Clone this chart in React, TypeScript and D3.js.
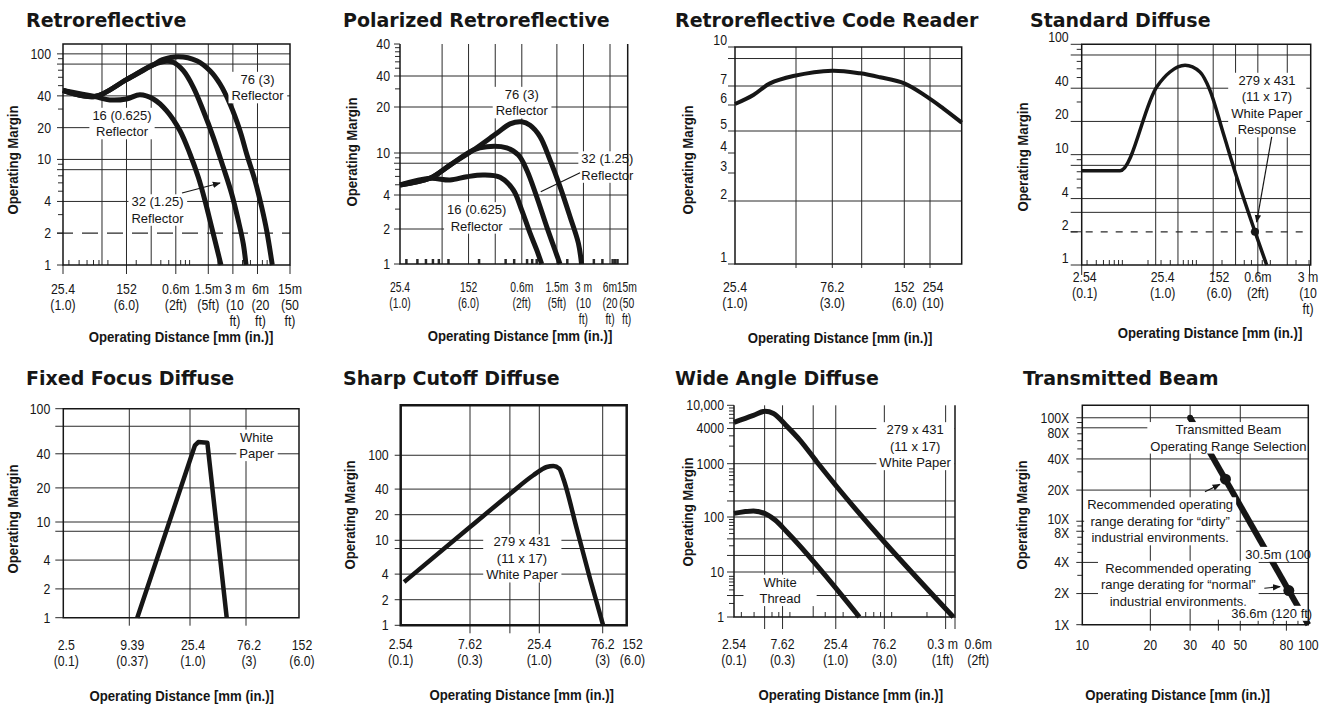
import React, { useRef, useEffect } from "react";
import * as d3 from "d3";

type Pt = [number, number];
interface Tick { v: number; t: string[]; dx?: number; dy?: number }
interface Note { at: Pt; lines: string[]; padX?: number }
interface Arrow { from: Pt; to: Pt; head: boolean }

const FONT = "'Liberation Sans', Arial, Helvetica, sans-serif";
const TITLE_FONT = "'DejaVu Sans', Verdana, sans-serif";
const INK = "#161616";
const GRID = "#2a2a2a";
const NARROW = 0.88; // the catalogue uses a condensed face

const lbl = (vals: number[]): Tick[] => vals.map((v) => ({ v, t: [String(v)] }));

// ---------- Retroreflective ----------
const retroXLabels: Tick[] = [
  { v: 25.4, t: ["25.4", "(1.0)"] },
  { v: 152, t: ["152", "(6.0)"] },
  { v: 610, t: ["0.6m", "(2ft)"] },
  { v: 1524, t: ["1.5m", "(5ft)"] },
  { v: 3048, t: ["3 m", "(10", "ft)"], dx: 2 },
  { v: 6096, t: ["6m", "(20", "ft)"], dx: 3 },
  { v: 15240, t: ["15m", "(50", "ft)"] },
];
const retroYLabels = lbl([100, 40, 20, 10, 4, 2, 1]);
const retro16: Pt[] = [[25.4, 45], [62, 39.4], [95, 36.6], [152, 37.4], [222, 41], [324, 37.4], [472, 28.9], [687, 18.7], [910, 11.25], [1151, 6.77], [1390, 4.06], [1600, 2.63], [1840, 1.7], [2180, 1]];
const retro32: Pt[] = [[25.4, 45], [62, 39.4], [152, 57], [322, 78.7], [472, 85], [569, 83.2], [754, 69.2], [1000, 48.2], [1324, 28.9], [1757, 16.2], [2327, 8.42], [2950, 4.71], [3555, 2.63], [4091, 1.58], [4414, 1]];
const retro76: Pt[] = [[25.4, 45], [62, 39.4], [152, 57], [322, 78.7], [420, 88], [655, 94], [1099, 86.2], [1600, 69.2], [2122, 51.8], [2811, 33.5], [3724, 18.7], [4496, 11.25], [5687, 6.29], [6868, 3.52], [7907, 2.11], [9250, 1]];

// ---------- Polarized Retroreflective ----------
const polXLabels: Tick[] = [
  { v: 25.4, t: ["25.4", "(1.0)"] },
  { v: 152, t: ["152", "(6.0)"] },
  { v: 610, t: ["0.6m", "(2ft)"] },
  { v: 1524, t: ["1.5m", "(5ft)"] },
  { v: 3048, t: ["3 m", "(10", "ft)"] },
  { v: 6096, t: ["6m", "(20", "ft)"] },
  { v: 15240, t: ["15m", "(50", "ft)"], dx: -1 },
];
const polYLabels: Tick[] = [{ v: 100, t: ["40"] }, ...lbl([40, 20, 10, 4, 2, 1])];
const pol16: Pt[] = [[25.4, 4.98], [55.5, 5.76], [93.7, 5.55], [145.4, 5.96], [224.2, 6.19], [346, 5.89], [489, 4.46], [609, 2.94], [757, 1.84], [900, 1.32], [1026, 1]];
const pol32: Pt[] = [[25.4, 4.98], [55.5, 5.76], [93.7, 7.69], [172.5, 10.46], [244.6, 11], [412, 10.8], [558, 9.57], [694, 6.9], [900, 3.86], [1168, 2.1], [1450, 1.32], [1654, 1]];
const pol76: Pt[] = [[25.4, 4.98], [55.5, 5.76], [93.7, 7.69], [172.5, 10.46], [317, 13.45], [449, 15.5], [609, 16], [757, 15.2], [981, 12.8], [1273, 8.6], [1654, 4.8], [2148, 2.57], [2672, 1.51], [2900, 1]];

// ---------- Retroreflective Code Reader ----------
const codeXLabels: Tick[] = [
  { v: 25.4, t: ["25.4", "(1.0)"] },
  { v: 76.2, t: ["76.2", "(3.0)"] },
  { v: 152, t: ["152", "(6.0)"] },
  { v: 254, t: ["254", "(10)"], dx: 3 },
];
const codeYLabels = lbl([10, 7, 6, 5, 4, 3, 2, 1]);
const codeCurve: Pt[] = [[25.4, 6.05], [31.3, 6.51], [37.8, 7.17], [49.3, 7.67], [76.2, 8.05], [100, 7.86], [121, 7.58], [152, 7.17], [238, 6.42], [274, 5.86], [305, 5.3]];

// ---------- Standard Diffuse ----------
const stdXLabels: Tick[] = [
  { v: 2.54, t: ["2.54", "(0.1)"], dx: 3 },
  { v: 25.4, t: ["25.4", "(1.0)"], dx: 7 },
  { v: 152, t: ["152", "(6.0)"], dx: 6 },
  { v: 610, t: ["0.6m", "(2ft)"] },
  { v: 3048, t: ["3 m", "(10", "ft)"], dx: -1.5 },
];
const stdCurve: Pt[] = [[2.54, 7.14], [8.37, 7.14], [26.2, 41.1], [39.6, 56.1], [63.4, 64.5], [100.7, 56.1], [137.6, 38.3], [208, 15.6], [315, 6.3], [558, 2], [803, 1]];

// ---------- Fixed Focus Diffuse ----------
const fixedXLabels: Tick[] = [
  { v: 2.5, t: ["2.5", "(0.1)"] },
  { v: 9.39, t: ["9.39", "(0.37)"] },
  { v: 25.4, t: ["25.4", "(1.0)"] },
  { v: 76.2, t: ["76.2", "(3)"] },
  { v: 152, t: ["152", "(6.0)"] },
];
const fixedCurve: Pt[] = [[10.7, 1], [28, 47.5], [29.9, 50.8], [35.7, 50.1], [52.2, 1]];

// ---------- Sharp Cutoff Diffuse ----------
const sharpXLabels: Tick[] = [
  { v: 2.54, t: ["2.54", "(0.1)"] },
  { v: 7.62, t: ["7.62", "(0.3)"] },
  { v: 25.4, t: ["25.4", "(1.0)"] },
  { v: 76.2, t: ["76.2", "(3)"] },
  { v: 152, t: ["152", "(6.0)"] },
];
const sharpCurve: Pt[] = [[2.68, 3.23], [7.62, 14.3], [15.3, 35.3], [22.9, 58.2], [28.9, 72.8], [32.4, 74.8], [35.9, 69.6], [38.5, 53.1], [48.6, 13.7], [61.2, 3.53], [77, 1]];

// ---------- Wide Angle Diffuse ----------
const wideXLabels: Tick[] = [
  { v: 2.54, t: ["2.54", "(0.1)"] },
  { v: 7.62, t: ["7.62", "(0.3)"] },
  { v: 25.4, t: ["25.4", "(1.0)"] },
  { v: 76.2, t: ["76.2", "(3.0)"] },
  { v: 305, t: ["0.3 m", "(1ft)"], dx: -3 },
  { v: 610, t: ["0.6m", "(2ft)"], dx: 2 },
];
const wideYLabels: Tick[] = [
  { v: 10000, t: ["10,000"] },
  { v: 4000, t: ["4000"] },
  { v: 1000, t: ["1000"] },
  { v: 100, t: ["100"] },
  { v: 10, t: ["10"] },
  { v: 1, t: ["1"] },
];
const wideWhite: Pt[] = [[2.54, 5100], [3.94, 6745], [5.13, 7900], [6.2, 7260], [8.37, 4400], [11.33, 2512], [16.5, 1082], [363, 1]];
const wideThread: Pt[] = [[2.54, 117], [3.94, 130], [6.44, 88], [8.37, 54], [43.3, 1]];

// ---------- Transmitted Beam ----------
const beamXLabels = lbl([10, 20, 30, 40, 50, 80, 100]);
const beamYLabels: Tick[] = [
  { v: 100, t: ["100X"] },
  { v: 80, t: ["80X"], dy: 5 },
  { v: 40, t: ["40X"] },
  { v: 20, t: ["20X"] },
  { v: 10, t: ["10X"], dy: -2.5 },
  { v: 8, t: ["8X"], dy: 1.5 },
  { v: 4, t: ["4X"] },
  { v: 2, t: ["2X"] },
  { v: 1, t: ["1X"] },
];
const beamLine: Pt[] = [[30, 100], [100, 1]];
const beamDots: Pt[] = [[43, 25.5], [82, 2.14]];

const std7 = lbl([100, 40, 20, 10, 4, 2, 1]);

type CurveKind = "cat" | "mono" | "linear";

interface Panel {
  title: string; titleX: number; titleY: number;
  xDom: number[]; xRng: number[]; yDom: number[]; yRng: number[];
  xGrid: number[]; yGrid: number[]; yDash?: number[]; dash?: string;
  xLabels: Tick[]; xLabelY: number; xLabelDx?: number; xLabelScale?: number; xTickDown: number[]; xTickLen: number;
  yLabels: Tick[]; yLabelGap: number; above?: boolean; yTickLen: number;
  yTitle: Pt; xTitle: Pt;
  topLine: boolean; frameW?: number;
  minorX?: number; minorY?: boolean;
  curves: Pt[][]; lineW: number; kind: CurveKind;
  notes: Note[]; arrows: Arrow[]; dots: { p: Pt; r: number }[];
}

const panels: Panel[] = [
  {
    title: "Retroreflective", titleX: 26, titleY: 27,
    xDom: [25.4, 15240], xRng: [63, 290], yDom: [1, 124], yRng: [265, 44],
    xGrid: [76.2, 152, 305, 610, 1524, 3048, 6096], yGrid: [100, 80, 40, 20, 10, 8, 4], yDash: [2], dash: "16,9",
    xLabels: retroXLabels, xLabelY: 294, xTickDown: [25.4, 152, 610, 1524, 3048, 6096, 15240], xTickLen: 9,
    yLabels: retroYLabels, yLabelGap: 12, yTickLen: 6,
    yTitle: [13, 160], xTitle: [181, 342], topLine: true, minorX: 1, minorY: true,
    curves: [retro16, retro32, retro76], lineW: 5, kind: "cat",
    notes: [
      { at: [6100, 48], lines: ["76 (3)", "Reflector"] },
      { at: [134, 21.9], lines: ["16 (0.625)", "Reflector"] },
      { at: [364, 3.32], lines: ["32 (1.25)", "Reflector"] },
    ],
    arrows: [{ from: [727, 4.81], to: [2121, 5.98], head: true }], dots: [],
  },
  {
    title: "Polarized Retroreflective", titleX: 343, titleY: 27,
    xDom: [25.4, 6096, 15240], xRng: [400, 610, 627.7], yDom: [1, 2, 4, 10, 20, 40, 100], yRng: [264, 229, 195, 153, 107, 76, 44],
    xGrid: [76.2, 152, 305, 610, 1524, 3048, 6096], yGrid: [40, 20, 10, 8, 4, 2],
    xLabels: polXLabels, xLabelY: 292, xLabelScale: 0.74, xTickDown: [], xTickLen: 0,
    yLabels: polYLabels, yLabelGap: 10, yTickLen: 6,
    yTitle: [352, 152], xTitle: [520, 340.5], topLine: false, minorX: 2.5, minorY: true,
    curves: [pol16, pol32, pol76], lineW: 5, kind: "cat",
    notes: [
      { at: [609, 22.1], lines: ["76 (3)", "Reflector"] },
      { at: [5690, 7.37], lines: ["32 (1.25)", "Reflector"] },
      { at: [188, 2.51], lines: ["16 (0.625)", "Reflector"] },
    ],
    arrows: [{ from: [2791, 6.51], to: [1000, 4.3], head: false }], dots: [],
  },
  {
    title: "Retroreflective Code Reader", titleX: 675, titleY: 27,
    xDom: [25.4, 50.8, 76.2, 101.6, 152, 254, 305], xRng: [735, 796, 832.3, 861.7, 904.3, 930, 961.7],
    yDom: [1, 2, 3, 4, 5, 6, 7, 10], yRng: [264, 201, 173, 153, 131, 105, 86, 47],
    xGrid: [50.8, 76.2, 101.6, 152, 254], yGrid: [9, 7, 5, 2],
    xLabels: codeXLabels, xLabelY: 292, xTickDown: [50.8, 76.2, 101.6, 152, 254], xTickLen: 4,
    yLabels: codeYLabels, yLabelGap: 8, above: true, yTickLen: 7,
    yTitle: [688, 160], xTitle: [840, 342.5], topLine: true,
    curves: [codeCurve], lineW: 4, kind: "cat",
    notes: [], arrows: [], dots: [],
  },
  {
    title: "Standard Diffuse", titleX: 1030, titleY: 27,
    xDom: [2.54, 3160], xRng: [1081.7, 1310.7], yDom: [1, 100], yRng: [265, 44.3],
    xGrid: [25.4, 50.8, 152, 305, 610, 1524], yGrid: [80, 40, 20, 10, 8, 4, 3], yDash: [2], dash: "7,8",
    xLabels: stdXLabels, xLabelY: 282, xTickDown: [2.54, 152, 610, 3048], xTickLen: 10,
    yLabels: std7, yLabelGap: 13, above: true, yTickLen: 11,
    yTitle: [1023, 157], xTitle: [1210, 337.5], topLine: true, minorX: 1, minorY: true,
    curves: [stdCurve], lineW: 3.5, kind: "mono",
    notes: [{ at: [810, 28.2], lines: ["279 x 431", "(11 x 17)", "White Paper", "Response"] }],
    arrows: [{ from: [939, 14.5], to: [588, 2.45], head: true }], dots: [{ p: [558, 2], r: 4 }],
  },
  {
    title: "Fixed Focus Diffuse", titleX: 26, titleY: 385,
    xDom: [2.5, 9.39, 25.4, 76.2, 152], xRng: [63.3, 129.3, 190, 246, 299], yDom: [1, 10, 100], yRng: [617.7, 522, 408.7],
    xGrid: [9.39, 25.4, 76.2], yGrid: [70, 40, 20, 10, 8, 4, 2],
    xLabels: fixedXLabels, xLabelY: 650, xLabelDx: 3, xTickDown: [9.39, 25.4, 76.2], xTickLen: 8,
    yLabels: std7, yLabelGap: 13, yTickLen: 8,
    yTitle: [13, 519], xTitle: [181.7, 701], topLine: true,
    curves: [fixedCurve], lineW: 4.5, kind: "linear",
    notes: [{ at: [87.6, 47.5], lines: ["White", "Paper"] }], arrows: [], dots: [],
  },
  {
    title: "Sharp Cutoff Diffuse", titleX: 343, titleY: 385,
    xDom: [2.54, 7.62, 25.4, 76.2, 133], xRng: [400.7, 470, 539.3, 602.7, 626.7], yDom: [1, 387], yRng: [625.3, 405.3],
    xGrid: [7.62, 15.24, 25.4, 76.2], yGrid: [100, 40, 20, 10, 8, 4, 2],
    xLabels: sharpXLabels, xLabelY: 649, xTickDown: [7.62, 15.24, 25.4, 76.2], xTickLen: 8,
    yLabels: std7, yLabelGap: 12, yTickLen: 6,
    yTitle: [350, 515], xTitle: [521.7, 699.5], topLine: true, frameW: 2.5,
    curves: [sharpCurve], lineW: 4.5, kind: "mono",
    notes: [{ at: [18.8, 6.12], lines: ["279 x 431", "(11 x 17)", "White Paper"] }], arrows: [], dots: [],
  },
  {
    title: "Wide Angle Diffuse", titleX: 675, titleY: 385,
    xDom: [2.54, 377], xRng: [734, 955], yDom: [1, 10, 100, 1000, 10000], yRng: [617, 572, 517, 463.7, 405.3],
    xGrid: [5.08, 7.62, 15.24, 25.4, 76.2, 305], yGrid: [4000, 1000, 200, 100, 40, 20, 10, 3],
    xLabels: wideXLabels, xLabelY: 649, xTickDown: [5.08, 7.62, 25.4, 76.2, 305, 377], xTickLen: 12,
    yLabels: wideYLabels, yLabelGap: 10, yTickLen: 7,
    yTitle: [688, 512], xTitle: [850.8, 699.5], topLine: false, minorX: 1, minorY: true,
    curves: [wideWhite, wideThread], lineW: 5, kind: "mono",
    notes: [
      { at: [153, 2000], lines: ["279 x 431", "(11 x 17)", "White Paper"] },
      { at: [7.2, 3.92], lines: ["White", "Thread"], padX: 16 },
    ],
    arrows: [], dots: [],
  },
  {
    title: "Transmitted Beam", titleX: 1023, titleY: 385,
    xDom: [10, 100], xRng: [1082.3, 1308.3], yDom: [1, 132], yRng: [624.7, 405.3],
    xGrid: [20, 30, 50], yGrid: [100, 80, 40, 20, 10, 8, 4, 2],
    xLabels: beamXLabels, xLabelY: 650, xTickDown: [20, 30, 40, 50, 80], xTickLen: 6,
    yLabels: beamYLabels, yLabelGap: 13, yTickLen: 6,
    yTitle: [1022, 515], xTitle: [1177.5, 699.5], topLine: true, minorX: 1, minorY: true,
    curves: [beamLine], lineW: 6, kind: "linear",
    notes: [
      { at: [44.3, 64.1], lines: ["Transmitted Beam", "Operating Range Selection"] },
      { at: [22.1, 10], lines: ["Recommended operating", "range derating for \u201cdirty\u201d", "industrial environments."] },
      { at: [73.6, 4.79], lines: ["30.5m (100"] },
      { at: [26.6, 2.43], lines: ["Recommended operating", "range derating for \u201cnormal\u201d", "industrial environments."] },
      { at: [68.9, 1.29], lines: ["36.6m (120 ft)"] },
    ],
    arrows: [
      { from: [34.9, 19.3], to: [40.6, 22.7], head: true },
      { from: [63.9, 2.25], to: [75, 2.33], head: true },
    ],
    dots: [{ p: beamLine[0], r: 3 }, ...beamDots.map((p) => ({ p, r: 5.5 }))],
  },
];

const minorValues = (lo: number, hi: number) => {
  const out: number[] = [];
  for (let k = Math.floor(Math.log10(lo)); k <= Math.ceil(Math.log10(hi)); k++) {
    for (let m = 2; m <= 9; m++) {
      const v = m * 10 ** k;
      if (v > lo * 1.03 && v < hi * 0.97) out.push(v);
    }
  }
  return out;
};

const curveOf = (k: CurveKind) =>
  k === "cat" ? d3.curveCatmullRom.alpha(0.5) : k === "mono" ? d3.curveMonotoneX : d3.curveLinear;

function drawPanel(svg: d3.Selection<SVGSVGElement, unknown, null, undefined>, p: Panel) {
  const x = d3.scaleLog().domain(p.xDom).range(p.xRng);
  const y = d3.scaleLog().domain(p.yDom).range(p.yRng);
  const x0 = p.xRng[0];
  const x1 = p.xRng[p.xRng.length - 1];
  const yBot = d3.max(p.yRng) as number;
  const yTop = d3.min(p.yRng) as number;
  const g = svg.append("g");

  g.append("text")
    .attr("x", p.titleX).attr("y", p.titleY)
    .attr("font-family", TITLE_FONT).attr("font-weight", "bold").attr("font-size", 19)
    .attr("fill", INK).text(p.title);

  // grid
  const grid = g.append("g").attr("stroke", GRID).attr("stroke-width", 1);
  p.xGrid.forEach((v) => grid.append("line").attr("x1", x(v)).attr("x2", x(v)).attr("y1", yBot).attr("y2", yTop));
  p.yGrid.forEach((v) => grid.append("line").attr("x1", x0).attr("x2", x1).attr("y1", y(v)).attr("y2", y(v)));
  (p.yDash || []).forEach((v) =>
    grid.append("line").attr("x1", x0 - p.yTickLen).attr("x2", x1).attr("y1", y(v)).attr("y2", y(v))
      .attr("stroke-dasharray", p.dash || "8,6").attr("stroke-width", 1.2));

  // outward ticks on the left axis, downward ticks under the labels
  const tickVals = Array.from(new Set([...p.yGrid, ...p.yLabels.map((d) => d.v)]));
  tickVals.forEach((v) => grid.append("line").attr("x1", x0 - p.yTickLen).attr("x2", x0).attr("y1", y(v)).attr("y2", y(v)));
  p.xTickDown.forEach((v) => grid.append("line").attr("x1", x(v)).attr("x2", x(v)).attr("y1", yBot).attr("y2", yBot + p.xTickLen));

  // minor ticks
  if (p.minorY) {
    const [lo, hi] = d3.extent(p.yDom) as [number, number];
    minorValues(lo, hi)
      .filter((v) => !tickVals.some((t) => Math.abs(y(t) - y(v)) < 2.5))
      .forEach((v) => grid.append("line").attr("x1", x0 - 5).attr("x2", x0).attr("y1", y(v)).attr("y2", y(v)));
  }
  if (p.minorX) {
    const [lo, hi] = d3.extent(p.xDom) as [number, number];
    minorValues(lo, hi)
      .filter((v) => !p.xGrid.some((t) => Math.abs(x(t) - x(v)) < 2.5))
      .forEach((v) => grid.append("line").attr("x1", x(v)).attr("x2", x(v)).attr("y1", yBot).attr("y2", yBot - 5)
        .attr("stroke-width", p.minorX as number));
  }

  // curves
  const line = d3.line<Pt>().x((d) => x(d[0])).y((d) => y(d[1])).curve(curveOf(p.kind));
  p.curves.forEach((c) =>
    g.append("path").attr("d", line(c)).attr("fill", "none").attr("stroke", INK)
      .attr("stroke-width", p.lineW).attr("stroke-linejoin", "round"));

  p.dots.forEach((d) => g.append("circle").attr("cx", x(d.p[0])).attr("cy", y(d.p[1])).attr("r", d.r).attr("fill", INK));

  // annotations with white backing
  p.notes.forEach((n) => {
    const ng = g.append("g");
    const t = ng.append("text").attr("font-family", FONT).attr("font-size", 13)
      .attr("text-anchor", "middle").attr("fill", INK);
    const cx = x(n.at[0]);
    const cy = y(n.at[1]);
    n.lines.forEach((s, i) =>
      t.append("tspan").attr("x", cx).attr("y", cy + (i - (n.lines.length - 1) / 2) * 16.5)
        .attr("dy", "0.35em").text(s));
    const bb = (t.node() as SVGTextElement).getBBox();
    const px = n.padX ?? 3;
    ng.insert("rect", "text").attr("x", bb.x - px).attr("y", bb.y)
      .attr("width", bb.width + 2 * px).attr("height", bb.height).attr("fill", "#fff");
  });

  p.arrows.forEach((a) =>
    g.append("line").attr("x1", x(a.from[0])).attr("y1", y(a.from[1]))
      .attr("x2", x(a.to[0])).attr("y2", y(a.to[1]))
      .attr("stroke", INK).attr("stroke-width", 1.2)
      .attr("marker-end", a.head ? "url(#arrowhead)" : null));

  // frame
  g.append("path")
    .attr("d", p.topLine ? `M${x0},${yTop}H${x1}V${yBot}H${x0}Z` : `M${x0},${yTop}V${yBot}H${x1}V${yTop}`)
    .attr("fill", "none").attr("stroke", INK).attr("stroke-width", p.frameW ?? 1.5);

  // tick labels (horizontally condensed)
  const lab = g.append("g").attr("font-family", FONT).attr("font-size", 14).attr("fill", INK);
  p.yLabels.forEach((d) =>
    lab.append("text")
      .attr("transform", `translate(${x0 - p.yLabelGap},${(p.above ? y(d.v) - 2 : y(d.v)) + (d.dy ?? 0)}) scale(${NARROW},1)`)
      .attr("dy", p.above ? null : "0.35em").attr("text-anchor", "end").text(d.t[0]));
  const sx = p.xLabelScale ?? NARROW;
  p.xLabels.forEach((d) => {
    const t = lab.append("text").attr("text-anchor", "middle")
      .attr("transform", `translate(${x(d.v) + (p.xLabelDx ?? 0) + (d.dx ?? 0)},${p.xLabelY}) scale(${sx},1)`);
    d.t.forEach((s, i) => t.append("tspan").attr("x", 0).attr("y", i * 16).text(s));
  });

  // axis titles
  g.append("text")
    .attr("transform", `translate(${p.yTitle[0]},${p.yTitle[1]}) rotate(-90) scale(${NARROW},1)`)
    .attr("dy", "0.35em").attr("text-anchor", "middle")
    .attr("font-family", FONT).attr("font-weight", "bold").attr("font-size", 15).attr("fill", INK)
    .text("Operating Margin");
  g.append("text")
    .attr("transform", `translate(${p.xTitle[0]},${p.xTitle[1]}) scale(${NARROW},1)`)
    .attr("text-anchor", "middle")
    .attr("font-family", FONT).attr("font-weight", "bold").attr("font-size", 15).attr("fill", INK)
    .text("Operating Distance [mm (in.)]");
}

export default function App() {
  const ref = useRef<SVGSVGElement>(null);

  useEffect(() => {
    const svg = d3.select(ref.current as SVGSVGElement);
    svg.selectAll("*").remove();

    svg.append("defs").append("marker")
      .attr("id", "arrowhead").attr("viewBox", "0 0 10 10")
      .attr("refX", 9).attr("refY", 5)
      .attr("markerWidth", 8).attr("markerHeight", 8)
      .attr("markerUnits", "userSpaceOnUse").attr("orient", "auto")
      .append("path").attr("d", "M0,1 L10,5 L0,9 z").attr("fill", INK);

    panels.forEach((p) => drawPanel(svg, p));
  }, []);

  return (
    <svg
      ref={ref}
      width={1319}
      height={704}
      style={{ position: "absolute", left: 0, top: 0, background: "#fff" }}
    />
  );
}
